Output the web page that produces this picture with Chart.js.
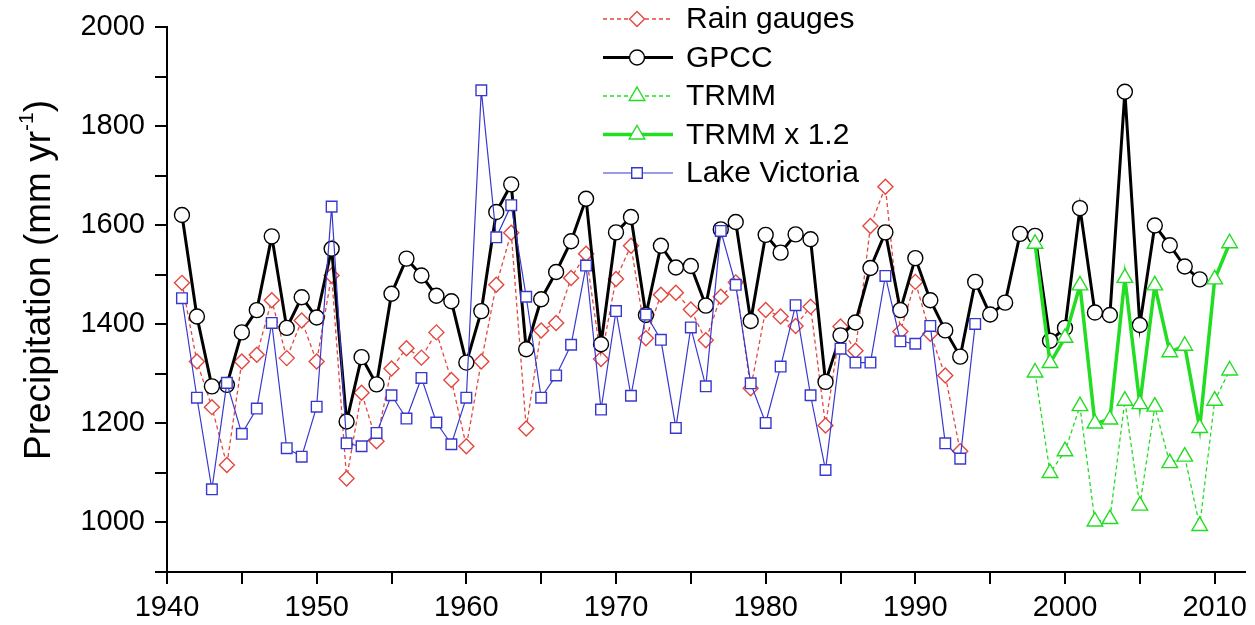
<!DOCTYPE html>
<html>
<head>
<meta charset="utf-8">
<script src="https://cdn.jsdelivr.net/npm/chart.js@4.4.1/dist/chart.umd.min.js"></script>
<style>
  html, body { margin: 0; padding: 0; background: #fff; }
  #wrap { width: 1255px; height: 625px; }
</style>
</head>
<body>
<div id="wrap"><canvas id="precipChart" width="1255" height="625"></canvas></div>
<script>
// values (mm/yr)
const gpccStart = 1941;
const gpccValues = [
    1621, 1416, 1275, 1278, 1384, 1429, 1578, 1393, 1455, 1414,
    1553, 1204, 1334, 1279, 1462, 1533, 1499, 1458, 1447, 1323,
    1427, 1627, 1683, 1350, 1451, 1506, 1568, 1654, 1360, 1586,
    1617, 1419, 1559, 1515, 1518, 1438, 1592, 1607, 1407, 1581,
    1545, 1582, 1572, 1284, 1378, 1404, 1514, 1586, 1429, 1534,
    1449, 1388, 1335, 1486, 1420, 1444, 1583, 1579, 1367, 1393,
    1635, 1424, 1419, 1870, 1399, 1600, 1560, 1517, 1491
];

const rainStart = 1941;
const rainValues = [
    1484, 1325, 1233, 1116, 1325, 1339, 1449, 1332, 1408, 1325,
    1499, 1089, 1262, 1164, 1311, 1352, 1333, 1384, 1288, 1154,
    1325, 1480, 1585, 1190, 1388, 1403, 1494, 1543, 1330, 1492,
    1559, 1372, 1460, 1464, 1430, 1368, 1456, 1485, 1271, 1429,
    1416, 1397, 1436, 1196, 1396, 1347, 1599, 1678, 1386, 1486,
    1381, 1297, 1144
];

const lakeStart = 1941;
const lakeValues = [
    1453, 1252, 1067, 1282, 1179, 1230, 1403, 1150, 1133, 1234,
    1638, 1160, 1154, 1181, 1257, 1210, 1292, 1202, 1158, 1252,
    1873, 1576, 1641, 1456, 1252, 1297, 1359, 1519, 1228, 1427,
    1256, 1420, 1369, 1191, 1394, 1275, 1589, 1480, 1281, 1201,
    1315, 1439, 1257, 1106, 1351, 1323, 1323, 1498, 1366, 1361,
    1397, 1160, 1129, 1401
];

const trmmStart = 1998;
const trmmValues = [1303, 1100, 1144, 1235, 1002, 1007, 1246, 1034, 1234, 1120, 1133, 993, 1246, 1307];
const trmmScaledValues = [1563, 1322, 1373, 1479, 1200, 1208, 1494, 1239, 1479, 1344, 1357, 1191, 1491, 1564];

const xTicks = [1940, 1950, 1960, 1970, 1980, 1990, 2000, 2010];
const yTicks = [1000, 1200, 1400, 1600, 1800, 2000];

function toPoints(start, values) {
    return values.map((v, i) => ({ x: start + i, y: v }));
}

const RED = '#e4473f';
const BLUE = '#3838cf';
const GREEN = '#22dd22';
const FONT = '"Liberation Sans", Arial, sans-serif';

// dataset order: lower number sits on top
const datasets = [
    {
        label: 'Rain gauges',
        data: toPoints(rainStart, rainValues),
        borderColor: RED, borderWidth: 1.3, borderDash: [4, 3],
        pointStyle: 'rectRot', pointRadius: 7.5, pointBorderWidth: 1.4,
        pointBorderColor: RED, pointBackgroundColor: '#fff', order: 5
    },
    {
        label: 'GPCC',
        data: toPoints(gpccStart, gpccValues),
        borderColor: '#000', borderWidth: 3,
        pointStyle: 'circle', pointRadius: 7.5, pointBorderWidth: 1.4,
        pointBorderColor: '#000', pointBackgroundColor: '#fff', order: 4
    },
    {
        label: 'TRMM',
        data: toPoints(trmmStart, trmmValues),
        borderColor: GREEN, borderWidth: 1.3, borderDash: [4, 3],
        pointStyle: 'triangle', pointRadius: 9, pointBorderWidth: 1.4,
        pointBorderColor: GREEN, pointBackgroundColor: '#fff', order: 3
    },
    {
        label: 'TRMM x 1.2',
        data: toPoints(trmmStart, trmmScaledValues),
        borderColor: GREEN, borderWidth: 3.5,
        pointStyle: 'triangle', pointRadius: 9, pointBorderWidth: 1.4,
        pointBorderColor: GREEN, pointBackgroundColor: '#fff', order: 2
    },
    {
        label: 'Lake Victoria',
        data: toPoints(lakeStart, lakeValues),
        borderColor: BLUE, borderWidth: 1.2,
        pointStyle: 'rect', pointRadius: 7.5, pointBorderWidth: 1.4,
        pointBorderColor: BLUE, pointBackgroundColor: '#fff', order: 1
    }
];

function drawMarker(ctx, style, x, y, r) {
    ctx.beginPath();
    if (style === 'circle') {
        ctx.arc(x, y, r, 0, Math.PI * 2);
    } else if (style === 'rectRot') {
        ctx.moveTo(x - r, y); ctx.lineTo(x, y - r); ctx.lineTo(x + r, y); ctx.lineTo(x, y + r);
        ctx.closePath();
    } else if (style === 'rect') {
        const s = r * Math.SQRT1_2;
        ctx.rect(x - s, y - s, 2 * s, 2 * s);
    } else if (style === 'triangle') {
        ctx.moveTo(x, y - r);
        ctx.lineTo(x + r * 0.866, y + r / 2);
        ctx.lineTo(x - r * 0.866, y + r / 2);
        ctx.closePath();
    }
    ctx.fillStyle = '#fff';
    ctx.fill();
    ctx.stroke();
}

const innerLegend = {
    id: 'innerLegend',
    afterDraw(chart) {
        const ctx = chart.ctx;
        const x1 = 603, x2 = 673, mx = 637, tx = 686;
        const top = 19, step = 38.5;
        ctx.save();
        chart.data.datasets.forEach((ds, i) => {
            const y = top + i * step;
            ctx.strokeStyle = ds.borderColor;
            ctx.lineWidth = ds.borderWidth;
            ctx.setLineDash(ds.borderDash || []);
            ctx.beginPath();
            ctx.moveTo(x1, y);
            ctx.lineTo(x2, y);
            ctx.stroke();
            ctx.setLineDash([]);
            ctx.lineWidth = ds.pointBorderWidth;
            ctx.strokeStyle = ds.pointBorderColor;
            drawMarker(ctx, ds.pointStyle, mx, y, ds.pointRadius);
            ctx.fillStyle = '#000';
            ctx.font = '30px ' + FONT;
            ctx.textBaseline = 'middle';
            ctx.textAlign = 'left';
            ctx.fillText(ds.label, tx, y + 1);
        });
        ctx.restore();
    }
};

const yTitle = {
    id: 'yTitle',
    afterDraw(chart) {
        const ctx = chart.ctx;
        const main = 'Precipitation (mm yr';
        const sup = '-1';
        const end = ')';
        ctx.save();
        ctx.translate(40, 280);
        ctx.rotate(-Math.PI / 2);
        ctx.fillStyle = '#000';
        ctx.textBaseline = 'middle';
        ctx.textAlign = 'left';
        ctx.font = '37px ' + FONT;
        const w1 = ctx.measureText(main).width;
        const w3 = ctx.measureText(end).width;
        ctx.font = '21px ' + FONT;
        const w2 = ctx.measureText(sup).width;
        let x = -(w1 + w2 + w3) / 2;
        ctx.font = '37px ' + FONT;
        ctx.fillText(main, x, 0);
        x += w1;
        ctx.font = '21px ' + FONT;
        ctx.fillText(sup, x, -13);
        x += w2;
        ctx.font = '37px ' + FONT;
        ctx.fillText(end, x, 0);
        ctx.restore();
    }
};

const ctx = document.getElementById('precipChart').getContext('2d');
new Chart(ctx, {
    type: 'line',
    data: { datasets: datasets },
    options: {
        responsive: false,
        animation: false,
        layout: { padding: { top: 22, right: 10, left: 0, bottom: 0 } },
        plugins: {
            legend: { display: false },
            tooltip: { enabled: false }
        },
        elements: { line: { tension: 0 } },
        scales: {
            x: {
                type: 'linear',
                min: 1940,
                max: 2012,
                afterFit: (scale) => { scale.height = 53; },
                border: { color: '#000', width: 2 },
                grid: { drawOnChartArea: false, color: '#000', lineWidth: 2, tickLength: 12 },
                ticks: {
                    stepSize: 5,
                    includeBounds: false,
                    autoSkip: false,
                    maxRotation: 0,
                    padding: 7,
                    color: '#000',
                    font: { family: FONT, size: 29 },
                    callback: (v) => xTicks.includes(v) ? String(v) : ''
                }
            },
            y: {
                min: 900,
                max: 2000,
                afterFit: (scale) => { scale.width = 167; },
                border: { color: '#000', width: 2 },
                grid: { drawOnChartArea: false, color: '#000', lineWidth: 2, tickLength: 12 },
                ticks: {
                    stepSize: 100,
                    autoSkip: false,
                    padding: 10,
                    color: '#000',
                    font: { family: FONT, size: 29 },
                    callback: (v) => yTicks.includes(v) ? String(v) : ''
                }
            }
        }
    },
    plugins: [innerLegend, yTitle]
});
</script>
</body>
</html>
